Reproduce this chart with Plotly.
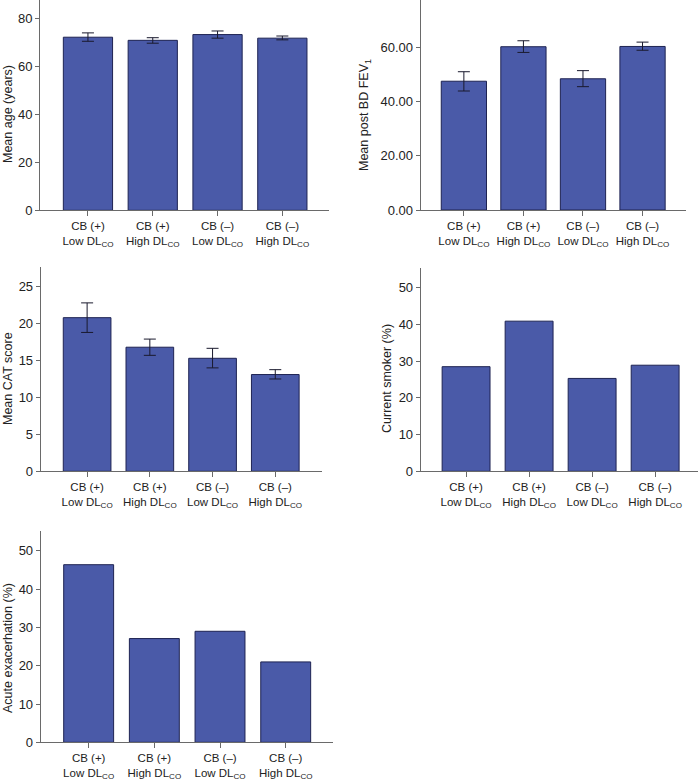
import plotly.graph_objects as go

categories = ["CB (+)<br>Low DL<sub>CO</sub>", "CB (+)<br>High DL<sub>CO</sub>",
              "CB (–)<br>Low DL<sub>CO</sub>", "CB (–)<br>High DL<sub>CO</sub>"]

age_mean = [72.1, 70.8, 73.2, 71.7]
age_upper = [73.9, 71.9, 74.7, 72.6]
age_lower = [70.4, 69.6, 71.7, 71.0]

fev_mean = [47.4, 60.1, 48.3, 60.2]
fev_upper = [50.9, 62.3, 51.3, 61.8]
fev_lower = [43.8, 58.0, 45.4, 58.8]

cat_mean = [20.8, 16.8, 15.3, 13.1]
cat_upper = [22.8, 17.9, 16.65, 13.76]
cat_lower = [18.8, 15.7, 14.0, 12.5]

smoker_pct = [28.5, 40.9, 25.3, 28.9]
exac_pct = [46.4, 27.1, 29.0, 21.0]

W, H = 700, 780
BAR = "#4a5aa8"
EDGE = "#1e2352"
AXIS = "#6a6a6a"
TXT = "#222222"
FONT = "Liberation Sans, Arial, sans-serif"

# panel geometry in pixels: x0, x1, ytop, ybottom, x-range, y-range
panels = [
    dict(x0=40, x1=329, yt=0, yb=210.3, xr=[-0.74, 3.72], yr=[0, 87.6],
         tv=[0, 20, 40, 60, 80], fmt="", title="Mean age (years)", tx=8, ty=114),
    dict(x0=420.7, x1=686, yt=0, yb=210, xr=[-0.725, 3.73], yr=[0, 77.3],
         tv=[0, 20, 40, 60], fmt=".2f", title="Mean post BD FEV<sub>1</sub>", tx=365, ty=115),
    dict(x0=40.7, x1=321.7, yt=266.7, yb=471.3, xr=[-0.74, 3.74], yr=[0, 27.7],
         tv=[0, 5, 10, 15, 20, 25], fmt="", title="Mean CAT score", tx=8, ty=379),
    dict(x0=420.7, x1=698, yt=268.3, yb=471.3, xr=[-0.72, 3.68], yr=[0, 55.3],
         tv=[0, 10, 20, 30, 40, 50], fmt="", title="Current smoker (%)", tx=387, ty=379),
    dict(x0=40.7, x1=333, yt=531, yb=742.3, xr=[-0.73, 3.72], yr=[0, 55.2],
         tv=[0, 10, 20, 30, 40, 50], fmt="", title="Acute exacerhation (%)", tx=8, ty=648),
]

series = [
    (age_mean, age_upper, age_lower),
    (fev_mean, fev_upper, fev_lower),
    (cat_mean, cat_upper, cat_lower),
    (smoker_pct, None, None),
    (exac_pct, None, None),
]

fig = go.Figure()
annotations = []
for i, (p, (vals, up, lo)) in enumerate(zip(panels, series), start=1):
    xa = "x" if i == 1 else f"x{i}"
    ya = "y" if i == 1 else f"y{i}"
    err = None
    if up is not None:
        err = dict(type="data", symmetric=False,
                   array=[u - m for u, m in zip(up, vals)],
                   arrayminus=[m - l for m, l in zip(vals, lo)],
                   color="#1a1a2e", thickness=1, width=6)
    fig.add_trace(go.Bar(x=list(range(4)), y=vals, xaxis=xa, yaxis=ya,
                         marker=dict(color=BAR, line=dict(color=EDGE, width=1)),
                         error_y=err, showlegend=False, hoverinfo="skip"))
    xkey = "xaxis" if i == 1 else f"xaxis{i}"
    ykey = "yaxis" if i == 1 else f"yaxis{i}"
    fig.update_layout(**{
        xkey: dict(domain=[p["x0"] / W, p["x1"] / W], range=p["xr"], anchor=ya,
                   tickmode="array", tickvals=list(range(4)), ticktext=categories,
                   ticks="outside", ticklen=5, tickcolor=AXIS, showline=True,
                   linecolor=AXIS, linewidth=1, showgrid=False, zeroline=False,
                   automargin=False,
                   tickfont=dict(family=FONT, size=11.5, color=TXT), fixedrange=True),
        ykey: dict(domain=[1 - p["yb"] / H, 1 - p["yt"] / H], range=p["yr"], anchor=xa,
                   tickmode="array", tickvals=p["tv"], tickformat=p["fmt"],
                   ticks="outside", ticklen=4, tickcolor=AXIS, showline=True,
                   linecolor=AXIS, linewidth=1, showgrid=False, zeroline=False,
                   automargin=False,
                   tickfont=dict(family=FONT, size=13, color=TXT), fixedrange=True),
    })
    annotations.append(dict(text=p["title"], xref="paper", yref="paper",
                            x=p["tx"] / W, y=1 - p["ty"] / H, xanchor="center",
                            yanchor="middle", textangle=-90, showarrow=False,
                            font=dict(family=FONT, size=12.5, color=TXT)))

fig.update_layout(width=W, height=H, margin=dict(l=0, r=0, t=0, b=0),
                  paper_bgcolor="white", plot_bgcolor="white", bargap=0.24,
                  annotations=annotations, font=dict(family=FONT, color=TXT))

fig.write_html("out.html", config={"displayModeBar": False},
               post_script="document.body.style.margin='0';document.body.style.overflow='hidden';")
